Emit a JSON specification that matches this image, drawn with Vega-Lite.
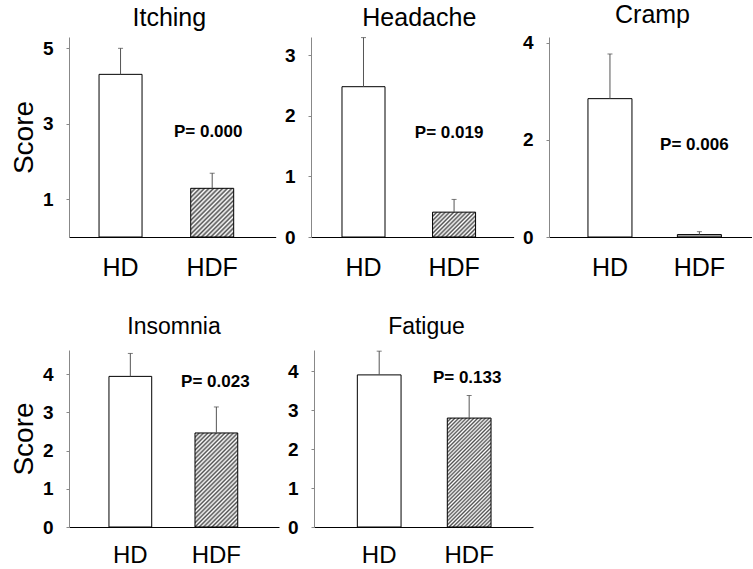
{
  "$schema": "https://vega.github.io/schema/vega-lite/v6.json",
  "background": "white",
  "padding": {"left": 10, "top": 2, "right": 0, "bottom": 0},
  "datasets": {
    "bars": [
      {"symptom": "Itching", "group": "HD", "mean": 4.31, "upper": 5.0, "p": "P= 0.000"},
      {"symptom": "Itching", "group": "HDF", "mean": 1.29, "upper": 1.69, "p": "P= 0.000"},
      {"symptom": "Headache", "group": "HD", "mean": 2.48, "upper": 3.29, "p": "P= 0.019"},
      {"symptom": "Headache", "group": "HDF", "mean": 0.41, "upper": 0.62, "p": "P= 0.019"},
      {"symptom": "Cramp", "group": "HD", "mean": 2.85, "upper": 3.77, "p": "P= 0.006"},
      {"symptom": "Cramp", "group": "HDF", "mean": 0.05, "upper": 0.11, "p": "P= 0.006"},
      {"symptom": "Insomnia", "group": "HD", "mean": 3.94, "upper": 4.54, "p": "P= 0.023"},
      {"symptom": "Insomnia", "group": "HDF", "mean": 2.46, "upper": 3.14, "p": "P= 0.023"},
      {"symptom": "Fatigue", "group": "HD", "mean": 3.91, "upper": 4.52, "p": "P= 0.133"},
      {"symptom": "Fatigue", "group": "HDF", "mean": 2.8, "upper": 3.38, "p": "P= 0.133"}
    ]
  },
  "bounds": "flush",
  "spacing": 313,
  "vconcat": [
    {
      "bounds": "flush",
      "spacing": 35,
      "hconcat": [
        {
          "width": 206.7, "height": 200,
          "title": {"text": "Itching", "dx": -3},
          "data": {"name": "bars"},
          "transform": [{"filter": "datum.symptom === 'Itching'"}],
          "encoding": {
            "x": {"field": "group", "type": "nominal", "scale": {"domain": ["HD", "HDF"], "paddingInner": 0.531, "paddingOuter": 0.393, "align": 0.417}},
            "y": {"field": "mean", "type": "quantitative", "scale": {"domain": [0, 5.3], "nice": false}, "axis": {"values": [1, 3, 5], "title": "Score"}}
          },
          "layer": [
            {"transform": [{"filter": "datum.group === 'HD'"}], "mark": {"type": "bar", "fill": "white", "stroke": "black", "strokeWidth": 1}},
            {"transform": [{"filter": "datum.group === 'HDF'"}], "mark": {"type": "bar", "stroke": "black", "strokeWidth": 1, "fill": {"gradient": "linear", "x1": 0, "y1": 0, "x2": 0.934, "y2": 1.058, "stops": [
              {"offset": 0, "color": "#505050"}, {"offset": 0.025, "color": "#ffffff"}, {"offset": 0.05, "color": "#505050"}, {"offset": 0.075, "color": "#ffffff"},
              {"offset": 0.1, "color": "#505050"}, {"offset": 0.125, "color": "#ffffff"}, {"offset": 0.15, "color": "#505050"}, {"offset": 0.175, "color": "#ffffff"},
              {"offset": 0.2, "color": "#505050"}, {"offset": 0.225, "color": "#ffffff"}, {"offset": 0.25, "color": "#505050"}, {"offset": 0.275, "color": "#ffffff"},
              {"offset": 0.3, "color": "#505050"}, {"offset": 0.325, "color": "#ffffff"}, {"offset": 0.35, "color": "#505050"}, {"offset": 0.375, "color": "#ffffff"},
              {"offset": 0.4, "color": "#505050"}, {"offset": 0.425, "color": "#ffffff"}, {"offset": 0.45, "color": "#505050"}, {"offset": 0.475, "color": "#ffffff"},
              {"offset": 0.5, "color": "#505050"}, {"offset": 0.525, "color": "#ffffff"}, {"offset": 0.55, "color": "#505050"}, {"offset": 0.575, "color": "#ffffff"},
              {"offset": 0.6, "color": "#505050"}, {"offset": 0.625, "color": "#ffffff"}, {"offset": 0.65, "color": "#505050"}, {"offset": 0.675, "color": "#ffffff"},
              {"offset": 0.7, "color": "#505050"}, {"offset": 0.725, "color": "#ffffff"}, {"offset": 0.75, "color": "#505050"}, {"offset": 0.775, "color": "#ffffff"},
              {"offset": 0.8, "color": "#505050"}, {"offset": 0.825, "color": "#ffffff"}, {"offset": 0.85, "color": "#505050"}, {"offset": 0.875, "color": "#ffffff"},
              {"offset": 0.9, "color": "#505050"}, {"offset": 0.925, "color": "#ffffff"}, {"offset": 0.95, "color": "#505050"}, {"offset": 0.975, "color": "#ffffff"},
              {"offset": 1, "color": "#505050"}]}}},
            {"mark": {"type": "rule", "color": "#555555", "strokeWidth": 1}, "encoding": {"y2": {"field": "upper"}}},
            {"mark": {"type": "tick", "orient": "horizontal", "size": 5, "thickness": 1, "color": "#444444"}, "encoding": {"y": {"field": "upper", "type": "quantitative", "axis": {"values": [1, 3, 5], "title": "Score"}}}},
            {"transform": [{"filter": "datum.group === 'HDF'"}], "mark": {"type": "text", "font": "Liberation Sans", "fontWeight": "bold", "fontSize": 17, "dx": -4, "baseline": "middle", "align": "center", "color": "black"}, "encoding": {"y": {"datum": 2.78, "type": "quantitative"}, "text": {"field": "p"}}}
          ]
        },
        {
          "width": 202.6, "height": 200,
          "title": {"text": "Headache", "dx": 7},
          "data": {"name": "bars"},
          "transform": [{"filter": "datum.symptom === 'Headache'"}],
          "encoding": {
            "x": {"field": "group", "type": "nominal", "scale": {"domain": ["HD", "HDF"], "paddingInner": 0.525, "paddingOuter": 0.381, "align": 0.449}},
            "y": {"field": "mean", "type": "quantitative", "scale": {"domain": [0, 3.3], "nice": false}, "axis": {"values": [0, 1, 2, 3], "title": null}}
          },
          "layer": [
            {"transform": [{"filter": "datum.group === 'HD'"}], "mark": {"type": "bar", "fill": "white", "stroke": "black", "strokeWidth": 1}},
            {"transform": [{"filter": "datum.group === 'HDF'"}], "mark": {"type": "bar", "stroke": "black", "strokeWidth": 1, "fill": {"gradient": "linear", "x1": 0, "y1": 0, "x2": 1.183, "y2": 0.682, "stops": [
              {"offset": 0, "color": "#505050"}, {"offset": 0.03125, "color": "#ffffff"}, {"offset": 0.0625, "color": "#505050"}, {"offset": 0.09375, "color": "#ffffff"},
              {"offset": 0.125, "color": "#505050"}, {"offset": 0.15625, "color": "#ffffff"}, {"offset": 0.1875, "color": "#505050"}, {"offset": 0.21875, "color": "#ffffff"},
              {"offset": 0.25, "color": "#505050"}, {"offset": 0.28125, "color": "#ffffff"}, {"offset": 0.3125, "color": "#505050"}, {"offset": 0.34375, "color": "#ffffff"},
              {"offset": 0.375, "color": "#505050"}, {"offset": 0.40625, "color": "#ffffff"}, {"offset": 0.4375, "color": "#505050"}, {"offset": 0.46875, "color": "#ffffff"},
              {"offset": 0.5, "color": "#505050"}, {"offset": 0.53125, "color": "#ffffff"}, {"offset": 0.5625, "color": "#505050"}, {"offset": 0.59375, "color": "#ffffff"},
              {"offset": 0.625, "color": "#505050"}, {"offset": 0.65625, "color": "#ffffff"}, {"offset": 0.6875, "color": "#505050"}, {"offset": 0.71875, "color": "#ffffff"},
              {"offset": 0.75, "color": "#505050"}, {"offset": 0.78125, "color": "#ffffff"}, {"offset": 0.8125, "color": "#505050"}, {"offset": 0.84375, "color": "#ffffff"},
              {"offset": 0.875, "color": "#505050"}, {"offset": 0.90625, "color": "#ffffff"}, {"offset": 0.9375, "color": "#505050"}, {"offset": 0.96875, "color": "#ffffff"},
              {"offset": 1, "color": "#505050"}]}}},
            {"mark": {"type": "rule", "color": "#555555", "strokeWidth": 1}, "encoding": {"y2": {"field": "upper"}}},
            {"mark": {"type": "tick", "orient": "horizontal", "size": 5, "thickness": 1, "color": "#444444"}, "encoding": {"y": {"field": "upper", "type": "quantitative", "axis": {"values": [0, 1, 2, 3], "title": null}}}},
            {"transform": [{"filter": "datum.group === 'HDF'"}], "mark": {"type": "text", "font": "Liberation Sans", "fontWeight": "bold", "fontSize": 17, "dx": -5, "baseline": "middle", "align": "center", "color": "black"}, "encoding": {"y": {"datum": 1.72, "type": "quantitative"}, "text": {"field": "p"}}}
          ]
        },
        {
          "width": 203, "height": 200,
          "title": {"text": "Cramp", "dx": 2},
          "data": {"name": "bars"},
          "transform": [{"filter": "datum.symptom === 'Cramp'"}],
          "encoding": {
            "x": {"field": "group", "type": "nominal", "scale": {"domain": ["HD", "HDF"], "paddingInner": 0.508, "paddingOuter": 0.389, "align": 0.56}},
            "y": {"field": "mean", "type": "quantitative", "scale": {"domain": [0, 4.12], "nice": false}, "axis": {"values": [0, 2, 4], "title": null}}
          },
          "layer": [
            {"transform": [{"filter": "datum.group === 'HD'"}], "mark": {"type": "bar", "fill": "white", "stroke": "black", "strokeWidth": 1}},
            {"transform": [{"filter": "datum.group === 'HDF'"}], "mark": {"type": "bar", "fill": "#a8a8a8", "stroke": "black", "strokeWidth": 1}},
            {"mark": {"type": "rule", "color": "#555555", "strokeWidth": 1}, "encoding": {"y2": {"field": "upper"}}},
            {"mark": {"type": "tick", "orient": "horizontal", "size": 5, "thickness": 1, "color": "#444444"}, "encoding": {"y": {"field": "upper", "type": "quantitative", "axis": {"values": [0, 2, 4], "title": null}}}},
            {"transform": [{"filter": "datum.group === 'HDF'"}], "mark": {"type": "text", "font": "Liberation Sans", "fontWeight": "bold", "fontSize": 17, "dx": -5, "baseline": "middle", "align": "center", "color": "black"}, "encoding": {"y": {"datum": 1.89, "type": "quantitative"}, "text": {"field": "p"}}}
          ]
        }
      ]
    },
    {
      "bounds": "flush",
      "spacing": 35,
      "hconcat": [
        {
          "width": 210, "height": 177,
          "title": {"text": "Insomnia", "dx": 0, "offset": 11, "fontSize": 23},
          "data": {"name": "bars"},
          "transform": [{"filter": "datum.symptom === 'Insomnia'"}],
          "encoding": {
            "x": {"field": "group", "type": "nominal", "scale": {"domain": ["HD", "HDF"], "paddingInner": 0.503, "paddingOuter": 0.472, "align": 0.492}, "axis": {"labelFontSize": 24, "labelPadding": 16}},
            "y": {"field": "mean", "type": "quantitative", "scale": {"domain": [0, 4.63], "nice": false}, "axis": {"values": [0, 1, 2, 3, 4], "title": "Score"}}
          },
          "layer": [
            {"transform": [{"filter": "datum.group === 'HD'"}], "mark": {"type": "bar", "fill": "white", "stroke": "black", "strokeWidth": 1}},
            {"transform": [{"filter": "datum.group === 'HDF'"}], "mark": {"type": "bar", "stroke": "black", "strokeWidth": 1, "fill": {"gradient": "linear", "x1": 0, "y1": 0, "x2": 0.548, "y2": 1.205, "stops": [
              {"offset": 0, "color": "#505050"}, {"offset": 0.015625, "color": "#ffffff"}, {"offset": 0.03125, "color": "#505050"}, {"offset": 0.046875, "color": "#ffffff"},
              {"offset": 0.0625, "color": "#505050"}, {"offset": 0.078125, "color": "#ffffff"}, {"offset": 0.09375, "color": "#505050"}, {"offset": 0.109375, "color": "#ffffff"},
              {"offset": 0.125, "color": "#505050"}, {"offset": 0.140625, "color": "#ffffff"}, {"offset": 0.15625, "color": "#505050"}, {"offset": 0.171875, "color": "#ffffff"},
              {"offset": 0.1875, "color": "#505050"}, {"offset": 0.203125, "color": "#ffffff"}, {"offset": 0.21875, "color": "#505050"}, {"offset": 0.234375, "color": "#ffffff"},
              {"offset": 0.25, "color": "#505050"}, {"offset": 0.265625, "color": "#ffffff"}, {"offset": 0.28125, "color": "#505050"}, {"offset": 0.296875, "color": "#ffffff"},
              {"offset": 0.3125, "color": "#505050"}, {"offset": 0.328125, "color": "#ffffff"}, {"offset": 0.34375, "color": "#505050"}, {"offset": 0.359375, "color": "#ffffff"},
              {"offset": 0.375, "color": "#505050"}, {"offset": 0.390625, "color": "#ffffff"}, {"offset": 0.40625, "color": "#505050"}, {"offset": 0.421875, "color": "#ffffff"},
              {"offset": 0.4375, "color": "#505050"}, {"offset": 0.453125, "color": "#ffffff"}, {"offset": 0.46875, "color": "#505050"}, {"offset": 0.484375, "color": "#ffffff"},
              {"offset": 0.5, "color": "#505050"}, {"offset": 0.515625, "color": "#ffffff"}, {"offset": 0.53125, "color": "#505050"}, {"offset": 0.546875, "color": "#ffffff"},
              {"offset": 0.5625, "color": "#505050"}, {"offset": 0.578125, "color": "#ffffff"}, {"offset": 0.59375, "color": "#505050"}, {"offset": 0.609375, "color": "#ffffff"},
              {"offset": 0.625, "color": "#505050"}, {"offset": 0.640625, "color": "#ffffff"}, {"offset": 0.65625, "color": "#505050"}, {"offset": 0.671875, "color": "#ffffff"},
              {"offset": 0.6875, "color": "#505050"}, {"offset": 0.703125, "color": "#ffffff"}, {"offset": 0.71875, "color": "#505050"}, {"offset": 0.734375, "color": "#ffffff"},
              {"offset": 0.75, "color": "#505050"}, {"offset": 0.765625, "color": "#ffffff"}, {"offset": 0.78125, "color": "#505050"}, {"offset": 0.796875, "color": "#ffffff"},
              {"offset": 0.8125, "color": "#505050"}, {"offset": 0.828125, "color": "#ffffff"}, {"offset": 0.84375, "color": "#505050"}, {"offset": 0.859375, "color": "#ffffff"},
              {"offset": 0.875, "color": "#505050"}, {"offset": 0.890625, "color": "#ffffff"}, {"offset": 0.90625, "color": "#505050"}, {"offset": 0.921875, "color": "#ffffff"},
              {"offset": 0.9375, "color": "#505050"}, {"offset": 0.953125, "color": "#ffffff"}, {"offset": 0.96875, "color": "#505050"}, {"offset": 0.984375, "color": "#ffffff"},
              {"offset": 1, "color": "#505050"}]}}},
            {"mark": {"type": "rule", "color": "#555555", "strokeWidth": 1}, "encoding": {"y2": {"field": "upper"}}},
            {"mark": {"type": "tick", "orient": "horizontal", "size": 5, "thickness": 1, "color": "#444444"}, "encoding": {"y": {"field": "upper", "type": "quantitative", "axis": {"values": [0, 1, 2, 3, 4], "title": "Score"}}}},
            {"transform": [{"filter": "datum.group === 'HDF'"}], "mark": {"type": "text", "font": "Liberation Sans", "fontWeight": "bold", "fontSize": 17, "dx": -1, "baseline": "middle", "align": "center", "color": "black"}, "encoding": {"y": {"datum": 3.8, "type": "quantitative"}, "text": {"field": "p"}}}
          ]
        },
        {
          "width": 219, "height": 177,
          "title": {"text": "Fatigue", "dx": 3, "offset": 11, "fontSize": 23},
          "data": {"name": "bars"},
          "transform": [{"filter": "datum.symptom === 'Fatigue'"}],
          "encoding": {
            "x": {"field": "group", "type": "nominal", "scale": {"domain": ["HD", "HDF"], "paddingInner": 0.514, "paddingOuter": 0.474, "align": 0.508}, "axis": {"labelFontSize": 24, "labelPadding": 16}},
            "y": {"field": "mean", "type": "quantitative", "scale": {"domain": [0, 4.55], "nice": false}, "axis": {"values": [0, 1, 2, 3, 4], "title": null}}
          },
          "layer": [
            {"transform": [{"filter": "datum.group === 'HD'"}], "mark": {"type": "bar", "fill": "white", "stroke": "black", "strokeWidth": 1}},
            {"transform": [{"filter": "datum.group === 'HDF'"}], "mark": {"type": "bar", "stroke": "black", "strokeWidth": 1, "fill": {"gradient": "linear", "x1": 0, "y1": 0, "x2": 0.484, "y2": 1.207, "stops": [
              {"offset": 0, "color": "#505050"}, {"offset": 0.0125, "color": "#ffffff"}, {"offset": 0.025, "color": "#505050"}, {"offset": 0.0375, "color": "#ffffff"},
              {"offset": 0.05, "color": "#505050"}, {"offset": 0.0625, "color": "#ffffff"}, {"offset": 0.075, "color": "#505050"}, {"offset": 0.0875, "color": "#ffffff"},
              {"offset": 0.1, "color": "#505050"}, {"offset": 0.1125, "color": "#ffffff"}, {"offset": 0.125, "color": "#505050"}, {"offset": 0.1375, "color": "#ffffff"},
              {"offset": 0.15, "color": "#505050"}, {"offset": 0.1625, "color": "#ffffff"}, {"offset": 0.175, "color": "#505050"}, {"offset": 0.1875, "color": "#ffffff"},
              {"offset": 0.2, "color": "#505050"}, {"offset": 0.2125, "color": "#ffffff"}, {"offset": 0.225, "color": "#505050"}, {"offset": 0.2375, "color": "#ffffff"},
              {"offset": 0.25, "color": "#505050"}, {"offset": 0.2625, "color": "#ffffff"}, {"offset": 0.275, "color": "#505050"}, {"offset": 0.2875, "color": "#ffffff"},
              {"offset": 0.3, "color": "#505050"}, {"offset": 0.3125, "color": "#ffffff"}, {"offset": 0.325, "color": "#505050"}, {"offset": 0.3375, "color": "#ffffff"},
              {"offset": 0.35, "color": "#505050"}, {"offset": 0.3625, "color": "#ffffff"}, {"offset": 0.375, "color": "#505050"}, {"offset": 0.3875, "color": "#ffffff"},
              {"offset": 0.4, "color": "#505050"}, {"offset": 0.4125, "color": "#ffffff"}, {"offset": 0.425, "color": "#505050"}, {"offset": 0.4375, "color": "#ffffff"},
              {"offset": 0.45, "color": "#505050"}, {"offset": 0.4625, "color": "#ffffff"}, {"offset": 0.475, "color": "#505050"}, {"offset": 0.4875, "color": "#ffffff"},
              {"offset": 0.5, "color": "#505050"}, {"offset": 0.5125, "color": "#ffffff"}, {"offset": 0.525, "color": "#505050"}, {"offset": 0.5375, "color": "#ffffff"},
              {"offset": 0.55, "color": "#505050"}, {"offset": 0.5625, "color": "#ffffff"}, {"offset": 0.575, "color": "#505050"}, {"offset": 0.5875, "color": "#ffffff"},
              {"offset": 0.6, "color": "#505050"}, {"offset": 0.6125, "color": "#ffffff"}, {"offset": 0.625, "color": "#505050"}, {"offset": 0.6375, "color": "#ffffff"},
              {"offset": 0.65, "color": "#505050"}, {"offset": 0.6625, "color": "#ffffff"}, {"offset": 0.675, "color": "#505050"}, {"offset": 0.6875, "color": "#ffffff"},
              {"offset": 0.7, "color": "#505050"}, {"offset": 0.7125, "color": "#ffffff"}, {"offset": 0.725, "color": "#505050"}, {"offset": 0.7375, "color": "#ffffff"},
              {"offset": 0.75, "color": "#505050"}, {"offset": 0.7625, "color": "#ffffff"}, {"offset": 0.775, "color": "#505050"}, {"offset": 0.7875, "color": "#ffffff"},
              {"offset": 0.8, "color": "#505050"}, {"offset": 0.8125, "color": "#ffffff"}, {"offset": 0.825, "color": "#505050"}, {"offset": 0.8375, "color": "#ffffff"},
              {"offset": 0.85, "color": "#505050"}, {"offset": 0.8625, "color": "#ffffff"}, {"offset": 0.875, "color": "#505050"}, {"offset": 0.8875, "color": "#ffffff"},
              {"offset": 0.9, "color": "#505050"}, {"offset": 0.9125, "color": "#ffffff"}, {"offset": 0.925, "color": "#505050"}, {"offset": 0.9375, "color": "#ffffff"},
              {"offset": 0.95, "color": "#505050"}, {"offset": 0.9625, "color": "#ffffff"}, {"offset": 0.975, "color": "#505050"}, {"offset": 0.9875, "color": "#ffffff"},
              {"offset": 1, "color": "#505050"}]}}},
            {"mark": {"type": "rule", "color": "#555555", "strokeWidth": 1}, "encoding": {"y2": {"field": "upper"}}},
            {"mark": {"type": "tick", "orient": "horizontal", "size": 5, "thickness": 1, "color": "#444444"}, "encoding": {"y": {"field": "upper", "type": "quantitative", "axis": {"values": [0, 1, 2, 3, 4], "title": null}}}},
            {"transform": [{"filter": "datum.group === 'HDF'"}], "mark": {"type": "text", "font": "Liberation Sans", "fontWeight": "bold", "fontSize": 17, "dx": -2, "baseline": "middle", "align": "center", "color": "black"}, "encoding": {"y": {"datum": 3.82, "type": "quantitative"}, "text": {"field": "p"}}}
          ]
        }
      ]
    }
  ],
  "config": {
    "view": {"stroke": null},
    "title": {"font": "Liberation Sans", "fontSize": 25, "fontWeight": "normal", "anchor": "middle", "baseline": "alphabetic", "offset": 6, "color": "black"},
    "axisX": {"title": null, "domainColor": "black", "domainWidth": 1, "ticks": false, "labelFont": "Liberation Sans", "labelFontSize": 25, "labelColor": "black", "labelPadding": 18, "labelAngle": 0, "grid": false},
    "axisY": {"domainColor": "#888888", "tickColor": "#888888", "tickSize": 3, "labelFont": "Liberation Sans", "labelFontWeight": "bold", "labelFontSize": 19, "labelColor": "black", "labelPadding": 13, "grid": false, "titleFont": "Liberation Sans", "titleFontSize": 28, "titleFontWeight": "normal", "titleColor": "black", "titlePadding": 4}
  }
}
